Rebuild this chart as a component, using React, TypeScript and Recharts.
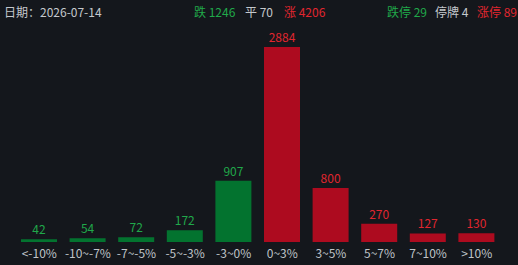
import { BarChart, Bar, XAxis, YAxis, Cell, LabelList } from 'recharts';

const categories = ['<-10%', '-10~-7%', '-7~-5%', '-5~-3%', '-3~0%', '0~3%', '3~5%', '5~7%', '7~10%', '>10%'];
const counts = [42, 54, 72, 172, 907, 2884, 800, 270, 127, 130];
const isDown = [true, true, true, true, true, false, false, false, false, false];

const dateLabel = '日期：2026-07-14';
const summary = [
    { text: '跌 1246', color: '#20a84a', x: 194 },
    { text: '平 70', color: '#c4c8cc', x: 245 },
    { text: '涨 4206', color: '#e0262f', x: 284 },
    { text: '跌停 29', color: '#20a84a', x: 387 },
    { text: '停牌 4', color: '#c4c8cc', x: 435 },
    { text: '涨停 89', color: '#e0262f', x: 477 },
];

const FONT = '"Noto Sans CJK SC", "Noto Sans", sans-serif';

const chartData = categories.map((name, i) => ({
    name,
    value: counts[i],
    down: isDown[i],
}));

const renderTick = (props: any) => {
    const { x, y, payload } = props;
    return (
        <text x={x} y={y + 14} textAnchor="middle" fill="#bfc3c8" fontSize={12} fontFamily={FONT}>
            {payload.value}
        </text>
    );
};

const renderLabel = (props: any) => {
    const { x, y, width, value, index } = props;
    const color = chartData[index].down ? '#20a84a' : '#e0262f';
    return (
        <text x={x + width / 2} y={y - 5} textAnchor="middle" fill={color} fontSize={12} fontFamily={FONT}>
            {value}
        </text>
    );
};

export default function App() {
    return (
        <div style={{ position: 'relative', width: 518, height: 265, background: '#14171c', fontFamily: FONT }}>
            <style>{'body{margin:0;background:#14171c}'}</style>
            <div style={{ position: 'absolute', left: 4, top: 4, fontSize: 12, lineHeight: '16px', color: '#c4c8cc' }}>
                {dateLabel}
            </div>
            {summary.map((s) => (
                <div
                    key={s.text}
                    style={{ position: 'absolute', left: s.x, top: 4, fontSize: 12, lineHeight: '16px', color: s.color, whiteSpace: 'nowrap' }}
                >
                    {s.text}
                </div>
            ))}
            <BarChart
                width={518}
                height={265}
                data={chartData}
                margin={{ top: 47, right: 17, bottom: 0, left: 15 }}
                barSize={36}
            >
                <XAxis
                    dataKey="name"
                    axisLine={false}
                    tickLine={false}
                    tickSize={0}
                    height={23}
                    interval={0}
                    tick={renderTick}
                />
                <YAxis hide domain={[0, 2884]} />
                <Bar dataKey="value" isAnimationActive={false}>
                    {chartData.map((d) => (
                        <Cell key={d.name} fill={d.down ? '#03732f' : '#ad0b1f'} />
                    ))}
                    <LabelList dataKey="value" content={renderLabel} />
                </Bar>
            </BarChart>
        </div>
    );
}
